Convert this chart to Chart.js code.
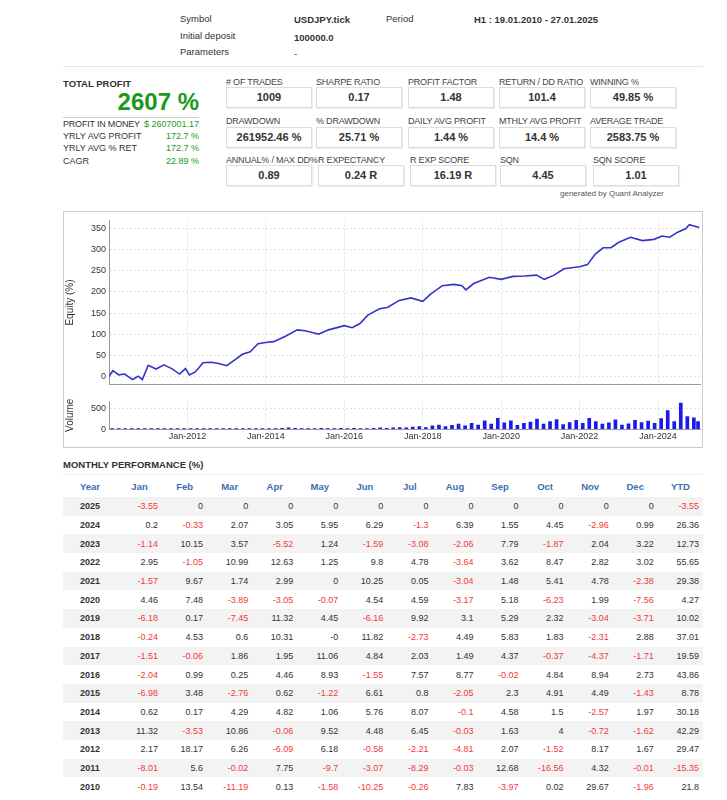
<!DOCTYPE html>
<html>
<head>
<meta charset="utf-8">
<script src="https://cdn.jsdelivr.net/npm/chart.js@4"></script>
<style>
  body { margin: 0; width: 727px; height: 800px; position: relative; font-family: "Liberation Sans", Arial, sans-serif; color: #333; background: #fff; overflow: hidden }
  .a { position: absolute; font-size: 9.5px; white-space: nowrap }
  .b { font-weight: bold }
  .g { color: #1a9a1a }
  .lbl { position: absolute; font-size: 9px; letter-spacing: -0.2px; color: #444; white-space: nowrap }
  .box { position: absolute; width: 84px; height: 19px; border: 1px solid #ddd; box-shadow: 1px 1px 1px #eee; font-weight: bold; font-size: 11px; text-align: center; line-height: 19px; color: #333 }
  #chartBox { position: absolute; left: 63px; top: 211px; width: 638px; height: 235px; border: 1px solid #ccc }
  #eq { position: absolute; left: 0; top: 0 }
  #vol { position: absolute; left: 0; top: 181px }
  table { position: absolute; left: 63px; top: 476px; width: 640px; border-collapse: collapse; font-size: 9px; table-layout: fixed }
  th { color: #3b6fb0; font-weight: bold; height: 19px; text-align: center; font-size: 9.5px }
  td { height: 18.7px; padding: 0 4px 0 0; text-align: right; color: #333 }
  td.y { text-align: center; font-weight: bold; padding: 0 }
  tr.odd td { background: #f3f3f3 }
  td.neg { color: #f03a3a }
</style>
</head>
<body>
<div class="a" style="left:180px;top:13px">Symbol</div>
<div class="a b" style="left:294px;top:14px">USDJPY.tick</div>
<div class="a" style="left:386px;top:13px">Period</div>
<div class="a b" style="left:474px;top:14px">H1 : 19.01.2010 - 27.01.2025</div>
<div class="a" style="left:180px;top:30px">Initial deposit</div>
<div class="a b" style="left:294px;top:32px">100000.0</div>
<div class="a" style="left:180px;top:46px">Parameters</div>
<div class="a" style="left:294px;top:48px">-</div>
<div style="position:absolute;left:63px;top:66px;width:640px;border-top:1px solid #e6e6e6"></div>

<div class="a b" style="left:63px;top:78px">TOTAL PROFIT</div>
<div class="a b g" style="left:100px;top:88px;width:99px;text-align:right;font-size:24px">2607 %</div>
<div style="position:absolute;left:63px;top:117px;width:136px;border-top:1px solid #ccc"></div>
<div class="a" style="left:63px;top:119px;font-size:9px;letter-spacing:-0.2px">PROFIT IN MONEY</div><div class="a g" style="left:130px;top:119px;width:69px;text-align:right;font-size:9px">$ 2607001.17</div>
<div class="a" style="left:63px;top:131px;font-size:9px">YRLY AVG PROFIT</div><div class="a g" style="left:130px;top:131px;width:69px;text-align:right;font-size:9px">172.7 %</div>
<div class="a" style="left:63px;top:143px;font-size:9px">YRLY AVG % RET</div><div class="a g" style="left:130px;top:143px;width:69px;text-align:right;font-size:9px">172.7 %</div>
<div class="a" style="left:63px;top:156px;font-size:9px">CAGR</div><div class="a g" style="left:130px;top:156px;width:69px;text-align:right;font-size:9px">22.89 %</div>

<div id="stats"></div>
<div class="a" style="left:560px;top:189px;font-size:8px;color:#555">generated by Quant Analyzer</div>

<div id="chartBox">
  <canvas id="eq" width="638" height="181"></canvas>
  <canvas id="vol" width="638" height="53"></canvas>
</div>

<div class="a b" style="left:63px;top:459px">MONTHLY PERFORMANCE (%)</div>
<div style="position:absolute;left:63px;top:474px;width:640px;border-top:1px solid #eee"></div>
<table id="perf"></table>

<script>
const statLabels = [
  ['# OF TRADES', 'SHARPE RATIO', 'PROFIT FACTOR', 'RETURN / DD RATIO', 'WINNING %'],
  ['DRAWDOWN', '% DRAWDOWN', 'DAILY AVG PROFIT', 'MTHLY AVG PROFIT', 'AVERAGE TRADE'],
  ['ANNUAL% / MAX DD%', 'R EXPECTANCY', 'R EXP SCORE', 'SQN', 'SQN SCORE']
]
const statValues = [
  ['1009', '0.17', '1.48', '101.4', '49.85 %'],
  ['261952.46 %', '25.71 %', '1.44 %', '14.4 %', '2583.75 %'],
  ['0.89', '0.24 R', '16.19 R', '4.45', '1.01']
]

const years = [2025, 2024, 2023, 2022, 2021, 2020, 2019, 2018, 2017, 2016, 2015, 2014, 2013, 2012, 2011, 2010]
const months = ['Jan', 'Feb', 'Mar', 'Apr', 'May', 'Jun', 'Jul', 'Aug', 'Sep', 'Oct', 'Nov', 'Dec', 'YTD']
const monthly = [
  ['-3.55', '0', '0', '0', '0', '0', '0', '0', '0', '0', '0', '0', '-3.55'],
  ['0.2', '-0.33', '2.07', '3.05', '5.95', '6.29', '-1.3', '6.39', '1.55', '4.45', '-2.96', '0.99', '26.36'],
  ['-1.14', '10.15', '3.57', '-5.52', '1.24', '-1.59', '-3.08', '-2.06', '7.79', '-1.87', '2.04', '3.22', '12.73'],
  ['2.95', '-1.05', '10.99', '12.63', '1.25', '9.8', '4.78', '-3.64', '3.62', '8.47', '2.82', '3.02', '55.65'],
  ['-1.57', '9.67', '1.74', '2.99', '0', '10.25', '0.05', '-3.04', '1.48', '5.41', '4.78', '-2.38', '29.38'],
  ['4.46', '7.48', '-3.89', '-3.05', '-0.07', '4.54', '4.59', '-3.17', '5.18', '-6.23', '1.99', '-7.56', '4.27'],
  ['-6.18', '0.17', '-7.45', '11.32', '4.45', '-6.16', '9.92', '3.1', '5.29', '2.32', '-3.04', '-3.71', '10.02'],
  ['-0.24', '4.53', '0.6', '10.31', '-0', '11.82', '-2.73', '4.49', '5.83', '1.83', '-2.31', '2.88', '37.01'],
  ['-1.51', '-0.06', '1.86', '1.95', '11.06', '4.84', '2.03', '1.49', '4.37', '-0.37', '-4.37', '-1.71', '19.59'],
  ['-2.04', '0.99', '0.25', '4.46', '8.93', '-1.55', '7.57', '8.77', '-0.02', '4.84', '8.94', '2.73', '43.86'],
  ['-6.98', '3.48', '-2.76', '0.62', '-1.22', '6.61', '0.8', '-2.05', '2.3', '4.91', '4.49', '-1.43', '8.78'],
  ['0.62', '0.17', '4.29', '4.82', '1.06', '5.76', '8.07', '-0.1', '4.58', '1.5', '-2.57', '1.97', '30.18'],
  ['11.32', '-3.53', '10.86', '-0.06', '9.52', '4.48', '6.45', '-0.03', '1.63', '4', '-0.72', '-1.62', '42.29'],
  ['2.17', '18.17', '6.26', '-6.09', '6.18', '-0.58', '-2.21', '-4.81', '2.07', '-1.52', '8.17', '1.67', '29.47'],
  ['-8.01', '5.6', '-0.02', '7.75', '-9.7', '-3.07', '-8.29', '-0.03', '12.68', '-16.56', '4.32', '-0.01', '-15.35'],
  ['-0.19', '13.54', '-11.19', '0.13', '-1.58', '-10.25', '-0.26', '7.83', '-3.97', '0.02', '29.67', '-1.96', '21.8']
]

// equity curve, x = fractional year
const eqX = [2010.0, 2010.1, 2010.25, 2010.4, 2010.6, 2010.75, 2010.85, 2011.0, 2011.2, 2011.4, 2011.6, 2011.8, 2011.95, 2012.05, 2012.2, 2012.4, 2012.6, 2012.8, 2013.0, 2013.2, 2013.4, 2013.6, 2013.8, 2014.0, 2014.2, 2014.5, 2014.8, 2015.0, 2015.2, 2015.35, 2015.6, 2016.0, 2016.2, 2016.4, 2016.6, 2016.9, 2017.1, 2017.4, 2017.7, 2018.0, 2018.2, 2018.5, 2018.8, 2019.0, 2019.1, 2019.3, 2019.7, 2020.0, 2020.3, 2020.6, 2020.9, 2021.1, 2021.35, 2021.6, 2022.0, 2022.2, 2022.4, 2022.6, 2022.8, 2023.0, 2023.3, 2023.6, 2023.9, 2024.1, 2024.3, 2024.5, 2024.7, 2024.8, 2025.05]
const eqY = [0, 13, 3, 5, -8, 0, -8, 26, 17, 27, 18, 5, 18, 3, 10, 32, 33, 30, 25, 38, 52, 58, 77, 80, 82, 95, 110, 108, 103, 100, 110, 120, 115, 125, 145, 160, 163, 180, 186, 178, 195, 215, 218, 215, 205, 220, 235, 230, 237, 238, 240, 230, 240, 255, 260, 265, 290, 305, 305, 318, 330, 322, 325, 333, 330, 342, 350, 360, 353]

// volume, bimonthly from Jan-2010
const volX = []
for (let y = 2010; y <= 2024; y++) for (let m = 0; m < 6; m++) volX.push(y + m / 6 + 0.08)
volX.push(2025.02)
const volY = [
  5, 5, 5, 5, 5, 5, 5, 5, 5, 5, 5, 5, 10, 10, 5, 5, 5, 5, 5, 5, 5, 5, 5, 5,
  10, 15, 20, 30, 20, 10, 5, 10, 20, 15, 10, 20, 15, 20, 10, 15, 20, 30,
  20, 30, 40, 30, 50, 60, 40, 80, 100, 60, 90, 120, 80, 140, 100, 200, 120, 260,
  150, 200, 90, 140, 170, 240, 120, 180, 230, 110, 160, 210, 140, 260, 180, 120, 150, 220,
  100, 130, 210, 160, 190, 140, 250, 440, 180, 620, 300, 270, 180
]
const xTicks = [2012, 2014, 2016, 2018, 2020, 2022, 2024]

let html = ''
const rowTops = [[77, 87], [116, 127], [155, 165]]
const colLefts = [[226, 316, 408, 499, 590], [226, 316, 408, 499, 590], [226, 318, 410, 500, 593]]
statLabels.forEach((row, r) => row.forEach((l, c) => {
  html += `<div class="lbl" style="left:${colLefts[r][c]}px;top:${rowTops[r][0]}px">${l}</div>`
  html += `<div class="box" style="left:${colLefts[r][c]}px;top:${rowTops[r][1]}px">${statValues[r][c]}</div>`
}))
document.getElementById('stats').innerHTML = html

let t = '<colgroup><col style="width:54px">' + months.map(() => '<col>').join('') + '</colgroup>'
t += '<tr><th>Year</th>' + months.map(m => `<th>${m}</th>`).join('') + '</tr>'
years.forEach((y, i) => {
  t += `<tr class="${i % 2 === 0 ? 'odd' : ''}"><td class="y">${y}</td>` +
    monthly[i].map(v => `<td class="${v.startsWith('-') && v !== '-0' ? 'neg' : ''}">${v}</td>`).join('') + '</tr>'
})
document.getElementById('perf').innerHTML = t

const fmtX = v => 'Jan-' + v
const gridCol = '#e2e2e2'
const xAxis = (show) => ({
  type: 'linear', min: 2010, max: 2025.07, offset: false,
  afterBuildTicks: a => { a.ticks = xTicks.map(v => ({ value: v })) },
  ticks: { display: show, callback: fmtX, color: '#333', font: { size: 9 }, maxRotation: 0, padding: 2 },
  grid: { color: gridCol, drawTicks: false, tickLength: 0, offset: false },
  border: { color: '#999', dash: [2, 2] }
})
const fitY = a => { a.width = 45 }

new Chart(document.getElementById('eq'), {
  type: 'line',
  data: { datasets: [{ data: eqX.map((x, i) => ({ x, y: eqY[i] })), borderColor: '#3333cc', borderWidth: 1.6, pointRadius: 0, tension: 0 }] },
  options: {
    responsive: false, animation: false, devicePixelRatio: 1,
    layout: { padding: { top: 6, right: 2, bottom: 0 } },
    plugins: { legend: { display: false }, tooltip: { enabled: false } },
    scales: {
      x: xAxis(false),
      y: { min: -20, max: 370, afterFit: fitY,
        afterBuildTicks: a => { a.ticks = [0, 50, 100, 150, 200, 250, 300, 350].map(v => ({ value: v })) },
        ticks: { color: '#333', font: { size: 9 }, padding: 3 },
        grid: { color: gridCol, drawTicks: false },
        border: { color: '#999', dash: [2, 2] },
        title: { display: true, text: 'Equity (%)', color: '#333', font: { size: 10 }, padding: 0 } }
    }
  }
})

new Chart(document.getElementById('vol'), {
  type: 'bar',
  data: { datasets: [{ data: volX.map((x, i) => ({ x, y: volY[i] })), backgroundColor: '#1a1aee', barThickness: 3 }] },
  options: {
    responsive: false, animation: false, devicePixelRatio: 1,
    layout: { padding: { top: 3, right: 2, bottom: 2 } },
    plugins: { legend: { display: false }, tooltip: { enabled: false } },
    scales: {
      x: xAxis(true),
      y: { min: 0, max: 660, afterFit: fitY,
        afterBuildTicks: a => { a.ticks = [0, 500].map(v => ({ value: v })) },
        ticks: { color: '#333', font: { size: 9 }, padding: 3 },
        grid: { color: gridCol, drawTicks: false },
        border: { color: '#999', dash: [2, 2] },
        title: { display: true, text: 'Volume', color: '#333', font: { size: 10 }, padding: 0 } }
    }
  }
})
</script>
</body>
</html>
